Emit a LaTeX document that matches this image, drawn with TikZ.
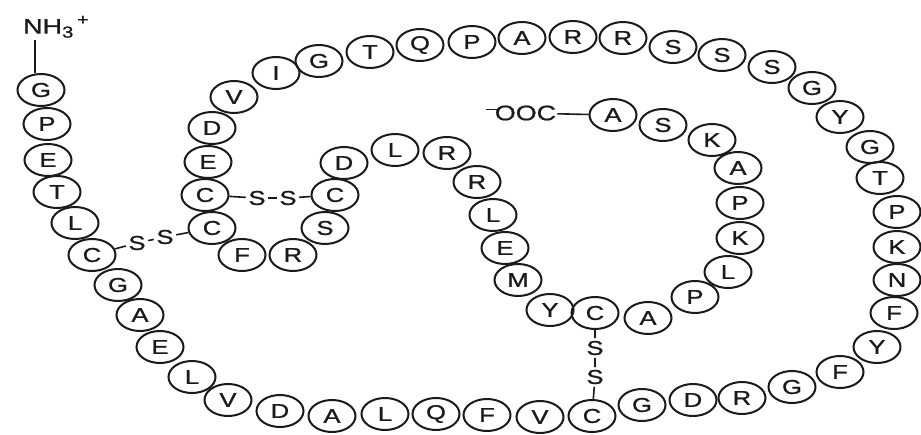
\documentclass[tikz,border=0pt]{standalone}
\usepackage{fontspec}
\setmainfont{Liberation Sans}
\newfontfamily\resfont{Liberation Sans}[FakeBold=0.9]
\usetikzlibrary{shapes.geometric}
\definecolor{ink}{HTML}{1A1A1A}
\tikzset{
  res/.style={ellipse, draw=ink, line width=2pt, minimum width=47pt, minimum height=32pt, inner sep=0pt, text=ink, font=\resfont\fontsize{20}{20}\selectfont},
  sulf/.style={inner sep=2.5pt, text=ink, font=\resfont\fontsize{20}{20}\selectfont},
  lbl/.style={inner sep=1pt, text=ink, font=\resfont\fontsize{21}{21}\selectfont},
  bond/.style={draw=ink, line width=1.6pt}
}
\newcommand{\wl}[1]{\scalebox{1.28}[1]{#1}}
\begin{document}
\begin{tikzpicture}[x=1pt,y=-1pt]
\path[use as bounding box] (0,0) rectangle (921,434);
\foreach \n/\x/\y/\l in {
1/41/90/G, 2/47/124/P, 3/48/160/E, 4/57/192/T, 5/75/223/L, 6/92/255/C, 7/118/285/G, 8/140/315/A, 9/160/347/E, 10/192/377/L,
11/228/400/V, 12/280/411/D, 13/332/416/A, 14/385/414/L, 15/436/414/Q, 16/487/415/F, 17/540/417/V, 18/592/416/C, 19/642/405/G, 20/693/400/D,
21/742/398/R, 22/792/387/G, 23/840/372/F, 24/877/347/Y, 25/894/313/F, 26/897/280/N, 27/897/247/K, 28/897/212/P, 29/880/178/T, 30/870/147/G,
31/840/117/Y, 32/812/88/G, 33/772/67/S, 34/722/55/S, 35/673/47/S, 36/623/38/R, 37/573/37/R, 38/522/38/A, 39/472/42/P, 40/420/45/Q,
41/370/52/T, 42/319/61/G, 43/276/73/I, 44/234/97/V, 45/212/128/D, 46/208/162/E, 47/205/195/C, 48/212/228/C, 49/242/255/F, 50/293/255/R,
51/325/228/S, 52/335/195/C, 53/344/163/D, 54/395/150/L, 55/447/153/R, 56/477/182/R, 57/493/215/L, 58/505/248/E, 59/518/280/M, 60/550/310/Y,
61/595/313/C, 62/648/318/A, 63/695/297/P, 64/728/272/L, 65/740/238/K, 66/740/203/P, 67/738/168/A, 68/712/140/K, 69/663/125/S, 70/613/115/A}
  \node[res] (r\n) at (\x,\y) {\wl{\l}};
% disulfide bridges
\node[sulf] (s1a) at (137,243) {\wl{S}};
\node[sulf] (s1b) at (165,237) {\wl{S}};
\draw[bond] (r6) -- (s1a) -- (s1b) -- (r48);
\node[sulf] (s2a) at (257,198) {\wl{S}};
\node[sulf] (s2b) at (288,198) {\wl{S}};
\draw[bond] (r47) -- (s2a) -- (s2b) -- (r52);
\node[sulf] (s3a) at (595,348) {\wl{S}};
\node[sulf] (s3b) at (595,377) {\wl{S}};
\draw[bond] (r61) -- (s3a) -- (s3b) -- (r18);
% termini
\node[lbl, anchor=south west] (nh) at (22,39) {\wl{NH\raisebox{-4pt}{\fontsize{16}{16}\selectfont 3}\kern3pt\raisebox{9pt}{\fontsize{15}{15}\selectfont +}}};
\coordinate (nhfoot) at (35,40);
\draw[bond] (nhfoot) -- (nhfoot |- r1.north);
\node[lbl] (ooc) at (521,113) {\wl{\rule[10pt]{10pt}{1.4pt}\kern-3pt OOC}};
\draw[bond] (ooc) -- (r70);
\end{tikzpicture}
\end{document}
